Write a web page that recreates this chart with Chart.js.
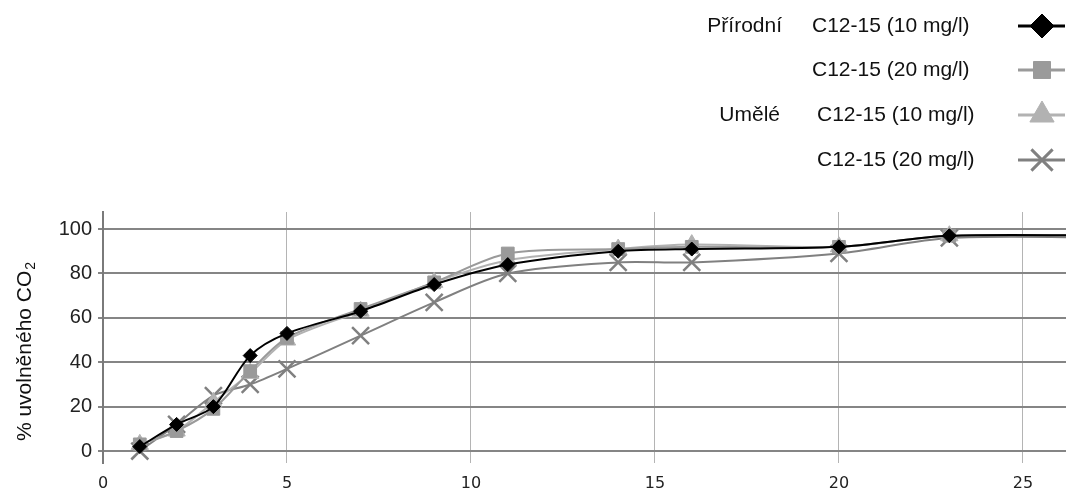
<!DOCTYPE html>
<html>
<head>
<meta charset="utf-8">
<script src="https://cdn.jsdelivr.net/npm/chart.js@4/dist/chart.umd.min.js"></script>
<style>
  html, body { margin: 0; padding: 0; background: #fff; }
  #chart { display: block; }
</style>
</head>
<body>
<canvas id="chart" width="1066" height="488"></canvas>
<script>
const DAYS = [1, 2, 3, 4, 5, 7, 9, 11, 14, 16, 20, 23, 28]
const PRIRODNI_10 = [2, 12, 20, 43, 53, 63, 75, 84, 90, 91, 92, 97, 97]
const PRIRODNI_20 = [3, 9, 19, 36, 51, 64, 76, 89, 91, 92, 92, 97, 97]
const UMELE_10 = [3, 9, 22, 35, 50, 63, 76, 86, 91, 93, 92, 97, 97]
const UMELE_20 = [0, 12, 25, 30, 37, 52, 67, 80, 85, 85, 89, 96, 96]
const X_TICKS = [0, 5, 10, 15, 20, 25]
const Y_TICKS = [0, 20, 40, 60, 80, 100]

const FONT = "'Liberation Sans', Arial, sans-serif"

const toPoints = (values) => DAYS.map((x, i) => ({ x, y: values[i] }))

const SERIES = [
  { group: 'Přírodní', label: 'C12-15 (10 mg/l)', data: PRIRODNI_10, color: '#000000', style: 'rectRot', r: 7, lr: 12 },
  { group: '', label: 'C12-15 (20 mg/l)', data: PRIRODNI_20, color: '#9a9a9a', style: 'rect', r: 9, lr: 12 },
  { group: 'Umělé', label: 'C12-15 (10 mg/l)', data: UMELE_10, color: '#b2b2b2', style: 'triangle', r: 10, lr: 14 },
  { group: '', label: 'C12-15 (20 mg/l)', data: UMELE_20, color: '#808080', style: 'crossRot', r: 12, lr: 15 }
]

// legend on the right top and rotated y title with subscript
const decorPlugin = {
  id: 'decor',
  afterDraw: (chart) => {
    const { ctx } = chart
    const rows = [26, 70, 115, 160]
    ctx.save()
    ctx.textBaseline = 'middle'
    ctx.fillStyle = '#111'
    ctx.font = `21px ${FONT}`
    SERIES.forEach((s, i) => {
      const y = rows[i]
      if (s.group) {
        ctx.textAlign = 'right'
        ctx.fillText(s.group, i < 2 ? 782 : 780, y)
      }
      ctx.textAlign = 'left'
      ctx.fillText(s.label, i < 2 ? 812 : 817, y)

      ctx.strokeStyle = s.color
      ctx.lineWidth = 3
      ctx.beginPath()
      ctx.moveTo(1018, y)
      ctx.lineTo(1065, y)
      ctx.stroke()

      ctx.fillStyle = s.color
      ctx.lineWidth = s.style === 'crossRot' ? 3 : 1
      Chart.helpers.drawPoint(ctx, { pointStyle: s.style, radius: s.lr, rotation: 0, borderWidth: ctx.lineWidth }, 1042, y)
      ctx.fillStyle = '#111'
    })

    ctx.translate(25, 352)
    ctx.rotate(-Math.PI / 2)
    ctx.textAlign = 'left'
    ctx.textBaseline = 'middle'
    ctx.font = `21px ${FONT}`
    const main = '% uvolněného CO'
    const w = ctx.measureText(main).width
    ctx.font = `14px ${FONT}`
    const sw = ctx.measureText('2').width
    const start = -(w + sw) / 2
    ctx.font = `21px ${FONT}`
    ctx.fillText(main, start, 0)
    ctx.font = `14px ${FONT}`
    ctx.fillText('2', start + w + 1, 6)
    ctx.restore()
  }
}

const CONFIG = {
  type: 'line',
  data: {
    datasets: SERIES.map((s) => ({
      label: s.label,
      data: toPoints(s.data),
      borderColor: s.color,
      backgroundColor: s.color,
      pointBackgroundColor: s.color,
      pointBorderColor: s.color,
      pointStyle: s.style,
      pointRadius: s.r,
      pointBorderWidth: s.style === 'crossRot' ? 2.5 : 1,
      borderWidth: 2,
      tension: 0.3,
      fill: false
    }))
  },
  options: {
    responsive: false,
    animation: false,
    layout: { autoPadding: false, padding: { top: 212, left: 0, right: 0, bottom: 0 } },
    plugins: {
      legend: { display: false },
      tooltip: { enabled: false }
    },
    scales: {
      x: {
        type: 'linear',
        min: 0,
        max: 26.17,
        afterBuildTicks: (scale) => { scale.ticks = X_TICKS.map((value) => ({ value })) },
        afterFit: (scale) => {
          scale.height = 25
          scale.paddingRight = 0
          scale.paddingLeft = 0
        },
        border: { display: false },
        grid: { color: '#b4b4b4', lineWidth: 1, drawTicks: false },
        ticks: {
          padding: 11,
          color: '#222',
          maxRotation: 0,
          font: { family: "'DejaVu Sans', Verdana, sans-serif", size: 16 }
        }
      },
      y: {
        min: -5.4,
        max: 107.7,
        afterBuildTicks: (scale) => { scale.ticks = Y_TICKS.map((value) => ({ value })) },
        afterFit: (scale) => {
          scale.width = 103
          scale.paddingTop = 0
          scale.paddingBottom = 0
        },
        border: { display: true, color: '#7a7a7a', width: 2 },
        grid: { color: '#858585', lineWidth: 2, drawTicks: true, tickLength: 5 },
        ticks: {
          padding: 6,
          color: '#222',
          font: { family: FONT, size: 20 }
        }
      }
    }
  },
  plugins: [decorPlugin]
}

// eslint-disable-next-line no-unused-vars
const chart = new Chart(document.getElementById('chart'), CONFIG)
</script>
</body>
</html>
